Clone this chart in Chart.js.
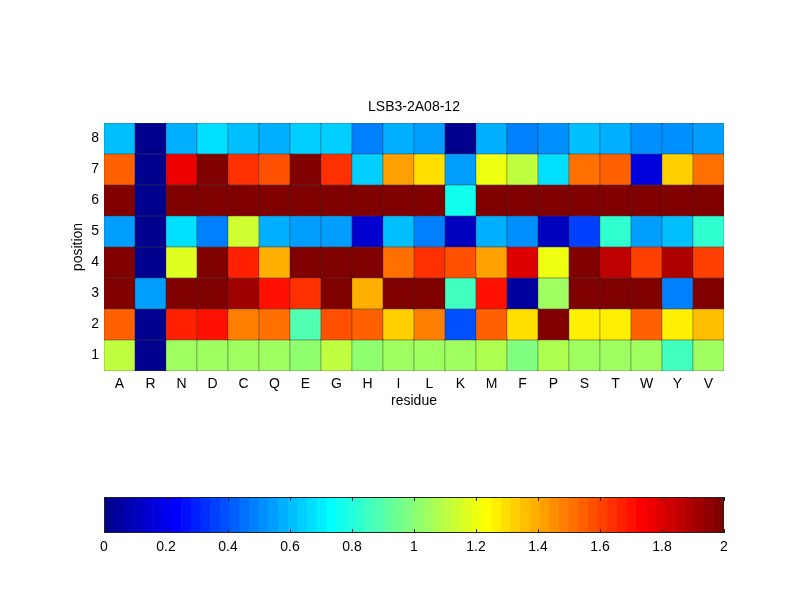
<!DOCTYPE html>
<html>
<head>
<meta charset="utf-8">
<title>LSB3-2A08-12</title>
<script src="https://cdn.jsdelivr.net/npm/chart.js@4.4.1/dist/chart.umd.min.js"></script>
<style>
    body { margin: 0; background: #fff; }
    #wrap { position: relative; width: 800px; height: 600px; }
    #heat { position: absolute; left: 0; top: 0; }
    #cbar { position: absolute; left: 0; top: 460px; }
</style>
</head>
<body>
<div id="wrap">
    <canvas id="heat" width="800" height="440"></canvas>
    <canvas id="cbar" width="800" height="120"></canvas>
</div>
<script>
(function() {
    // Categories
    const residues = ['A', 'R', 'N', 'D', 'C', 'Q', 'E', 'G', 'H', 'I', 'L', 'K', 'M', 'F', 'P', 'S', 'T', 'W', 'Y', 'V'];
    const positions = [1, 2, 3, 4, 5, 6, 7, 8];

    // Values per position (order = residues)
    const pos1 = [1.10, 0.00, 1.05, 1.05, 1.06, 1.06, 1.03, 1.12, 1.03, 1.06, 1.06, 1.06, 1.08, 0.98, 1.08, 1.06, 1.05, 1.05, 0.87, 1.05];
    const pos2 = [1.55, 0.00, 1.67, 1.71, 1.48, 1.52, 0.90, 1.57, 1.55, 1.33, 1.48, 0.39, 1.54, 1.31, 2.00, 1.25, 1.27, 1.55, 1.28, 1.35];
    const pos3 = [2.00, 0.55, 2.00, 2.00, 1.92, 1.71, 1.63, 2.00, 1.40, 2.00, 2.00, 0.85, 1.71, 0.05, 1.05, 2.00, 2.00, 2.00, 0.49, 2.00];
    const pos4 = [2.00, 0.00, 1.17, 2.00, 1.67, 1.40, 2.00, 2.00, 2.00, 1.50, 1.63, 1.58, 1.42, 1.80, 1.19, 2.00, 1.86, 1.61, 1.90, 1.61];
    const pos5 = [0.56, 0.00, 0.66, 0.47, 1.14, 0.57, 0.55, 0.55, 0.14, 0.62, 0.47, 0.12, 0.58, 0.51, 0.10, 0.37, 0.83, 0.56, 0.60, 0.83];
    const pos6 = [2.00, 0.00, 2.00, 2.00, 2.00, 2.00, 2.00, 2.00, 2.00, 2.00, 2.00, 0.75, 2.00, 2.00, 2.00, 2.00, 2.00, 2.00, 2.00, 2.00];
    const pos7 = [1.55, 0.00, 1.75, 2.00, 1.65, 1.58, 2.00, 1.63, 0.65, 1.42, 1.30, 0.55, 1.19, 1.12, 0.66, 1.50, 1.56, 0.16, 1.33, 1.52];
    const pos8 = [0.60, 0.00, 0.58, 0.66, 0.60, 0.58, 0.64, 0.63, 0.47, 0.57, 0.55, 0.03, 0.57, 0.49, 0.50, 0.62, 0.58, 0.53, 0.53, 0.55];
    const rows = [pos1, pos2, pos3, pos4, pos5, pos6, pos7, pos8];

    // Colour limits and colorbar tick labels
    const cmin = 0;
    const cmax = 2;
    const cbarTicks = [0, 0.2, 0.4, 0.6, 0.8, 1, 1.2, 1.4, 1.6, 1.8, 2];

    Chart.defaults.font.family = '"Liberation Sans", Arial, Helvetica, sans-serif';
    Chart.defaults.font.size = 14;
    Chart.defaults.color = '#000';

    // MATLAB style jet(m)
    function jet(m) {
        const n = Math.ceil(m / 4);
        const u = [];
        for (let i = 1; i <= n; i++) u.push(i / n);
        for (let i = 1; i < n; i++) u.push(1);
        for (let i = n; i >= 1; i--) u.push(i / n);
        const g0 = Math.ceil(n / 2) - (m % 4 === 1 ? 1 : 0);
        const J = [];
        for (let i = 0; i < m; i++) J.push([0, 0, 0]);
        u.forEach((val, j) => {
            const g = g0 + j + 1;
            const r = g + n;
            const b = g - n;
            if (r >= 1 && r <= m) J[r - 1][0] = val;
            if (g >= 1 && g <= m) J[g - 1][1] = val;
            if (b >= 1 && b <= m) J[b - 1][2] = val;
        });
        return J.map(c => 'rgb(' + c.map(v => Math.round(v * 255)).join(',') + ')');
    }

    const cmap = jet(64);

    function colorFor(v) {
        let k = Math.floor((v - cmin) / (cmax - cmin) * cmap.length);
        if (k < 0) k = 0;
        if (k > cmap.length - 1) k = cmap.length - 1;
        return cmap[k];
    }

    // Heatmap: one floating bar dataset per position
    const heatDatasets = positions.map((p, i) => ({
        label: 'position ' + p,
        data: rows[i].map(() => [p - 0.5, p + 0.5]),
        backgroundColor: rows[i].map(colorFor),
        borderColor: '#111',
        borderWidth: 0.5,
        borderSkipped: false,
        barPercentage: 1,
        categoryPercentage: 1,
        grouped: false
    }));

    new Chart(document.getElementById('heat'), {
        type: 'bar',
        data: { labels: residues, datasets: heatDatasets },
        options: {
            responsive: false,
            animation: false,
            layout: { padding: { left: 0, right: 76, top: 0, bottom: 30 } },
            plugins: {
                legend: { display: false },
                tooltip: { enabled: false },
                title: { display: false }
            },
            scales: {
                x: {
                    type: 'category',
                    offset: true,
                    grid: { display: false, drawTicks: false },
                    border: { display: false },
                    ticks: { padding: 5, color: '#000' },
                    title: { display: true, text: 'residue', color: '#000', padding: 0 },
                    afterFit: s => { s.height = 39; }
                },
                // top axis only carries the chart title, centred over the plot
                xTop: {
                    type: 'category',
                    position: 'top',
                    offset: true,
                    grid: { display: false, drawTicks: false },
                    border: { display: false },
                    ticks: { display: false },
                    title: { display: true, text: 'LSB3-2A08-12', color: '#000', padding: { top: 99, bottom: 0 } },
                    afterFit: s => { s.height = 123; }
                },
                y: {
                    type: 'linear',
                    min: 0.5,
                    max: 8.5,
                    afterBuildTicks: s => { s.ticks = positions.map(v => ({ value: v })); },
                    grid: { display: false, drawTicks: false },
                    border: { display: false },
                    ticks: { padding: 5, color: '#000' },
                    title: { display: true, text: 'position', color: '#000', padding: { top: 70, bottom: 0 } },
                    afterFit: s => { s.width = 104; }
                }
            }
        }
    });

    // Colorbar: one bar per colormap level
    const levelCenters = cmap.map((c, i) => cmin + (i + 0.5) * (cmax - cmin) / cmap.length);

    const cbarFrame = {
        id: 'cbarFrame',
        afterDatasetsDraw(chart) {
            const { ctx, chartArea: a } = chart;
            const xs = chart.scales.x;
            ctx.save();
            ctx.strokeStyle = '#222';
            ctx.lineWidth = 1;
            ctx.beginPath();
            cbarTicks.forEach(t => {
                const px = Math.round(xs.getPixelForValue(t)) + 0.5;
                ctx.moveTo(px, a.top);
                ctx.lineTo(px, a.top + 4);
                ctx.moveTo(px, a.bottom);
                ctx.lineTo(px, a.bottom - 4);
            });
            ctx.stroke();
            ctx.strokeRect(Math.round(a.left) + 0.5, Math.round(a.top) + 0.5,
                Math.round(a.right - a.left) - 1, Math.round(a.bottom - a.top) - 1);
            ctx.restore();
        }
    };

    new Chart(document.getElementById('cbar'), {
        type: 'bar',
        data: {
            datasets: [{
                data: levelCenters.map(x => ({ x: x, y: 1 })),
                backgroundColor: cmap,
                borderWidth: 0,
                barPercentage: 1,
                categoryPercentage: 1
            }]
        },
        options: {
            responsive: false,
            animation: false,
            layout: { padding: { left: 104, right: 76, top: 37, bottom: 0 } },
            plugins: {
                legend: { display: false },
                tooltip: { enabled: false }
            },
            scales: {
                x: {
                    type: 'linear',
                    min: cmin,
                    max: cmax,
                    offset: false,
                    afterBuildTicks: s => { s.ticks = cbarTicks.map(v => ({ value: v })); },
                    grid: { display: false, drawTicks: false },
                    border: { display: false },
                    ticks: {
                        padding: 6,
                        color: '#000',
                        maxRotation: 0,
                        autoSkip: false,
                        callback: v => String(Math.round(v * 10) / 10)
                    },
                    afterFit: s => { s.height = 47; }
                },
                y: { display: false, min: 0, max: 1 }
            }
        },
        plugins: [cbarFrame]
    });
})();
</script>
</body>
</html>
